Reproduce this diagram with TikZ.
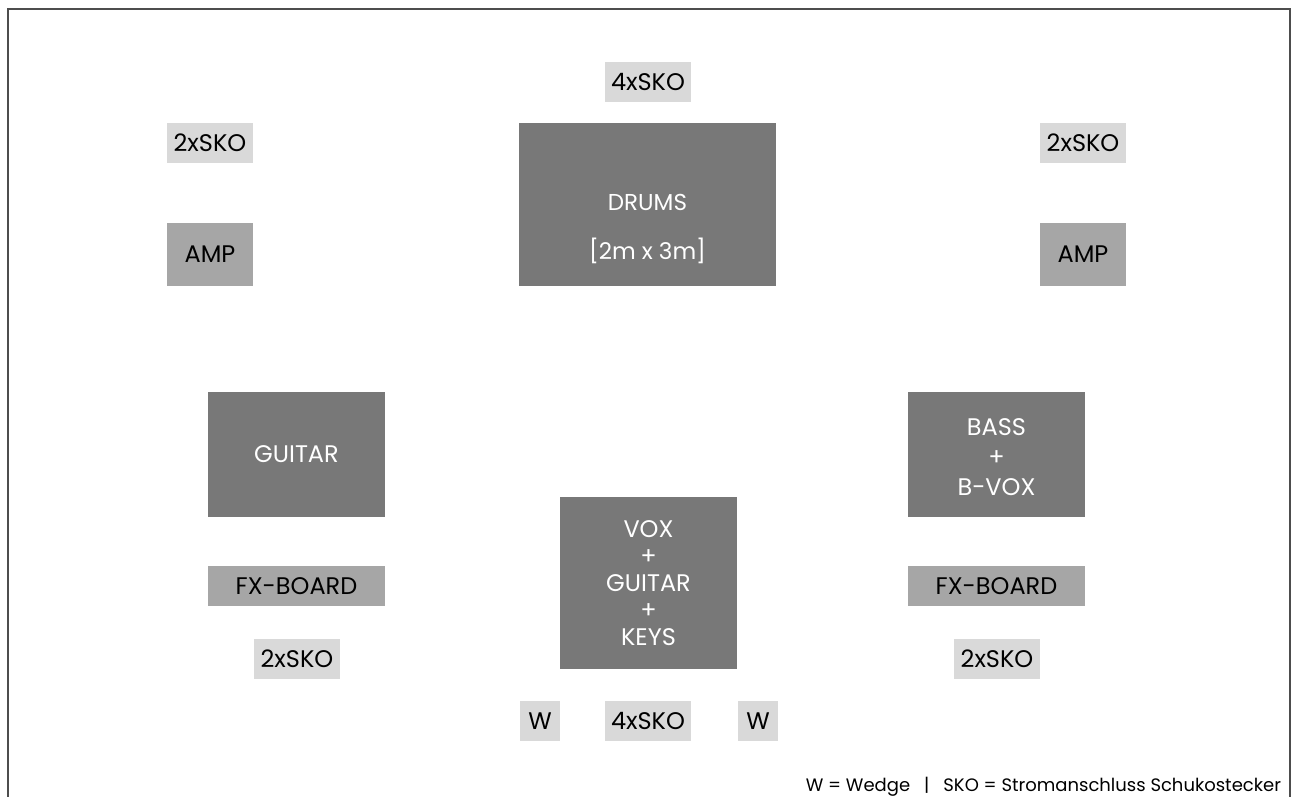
\documentclass[tikz,border=0pt]{standalone}
\usepackage{fontspec}
\usetikzlibrary{calc}
\setmainfont{Poppins}
\definecolor{dark}{HTML}{787878}
\definecolor{mid}{HTML}{A6A6A6}
\definecolor{light}{HTML}{D9D9D9}
\definecolor{frame}{HTML}{4D4D4D}
\tikzset{
  base/.style={inner sep=0pt, outer sep=0pt, align=center, font=\fontsize{24}{27}\selectfont},
  darkbox/.style={base, fill=dark, text=white},
  midbox/.style={base, fill=mid, text=black},
  skobox/.style={base, fill=light, text=black, minimum width=86pt, minimum height=40pt},
  whitetext/.style={base, text=white},
}
\begin{document}
\begin{tikzpicture}[x=1pt,y=-1pt]
\useasboundingbox (0,0) rectangle (1292,796);
\draw[frame, line width=2pt] (7.5,797) -- (7.5,9) -- (1290,9) -- (1290,797);
% top row
\node[skobox] (skoT) at (648,82) {4xSKO};
\node[darkbox, minimum width=257pt, minimum height=163pt] (drums) at (647.5,204.5) {};
\node[whitetext, font=\fontsize{23}{27}\selectfont] (drumsT) at ($(drums.center)+(0,25)$) {DRUMS\\[22pt][2m x 3m]};
\node[skobox] (skoTL) at (210,143) {2xSKO};
\node[skobox] (skoTR) at (1083,143) {2xSKO};
\node[midbox, minimum width=86pt, minimum height=63pt] (ampL) at (210,254.5) {AMP};
\node[midbox, minimum width=86pt, minimum height=63pt] (ampR) at (1083,254.5) {AMP};
% middle
\node[darkbox, minimum width=177pt, minimum height=125pt] (guitar) at (296.5,454.5) {GUITAR};
\node[darkbox, minimum width=177pt, minimum height=125pt] (bass) at (996.5,454.5) {};
\node[whitetext, font=\fontsize{24}{30}\selectfont] (bassT) at ($(bass.center)+(0,3)$) {BASS\\+\\B-VOX};
\node[midbox, minimum width=177pt, minimum height=40pt] (fxL) at (296.5,586) {FX-BOARD};
\node[midbox, minimum width=177pt, minimum height=40pt] (fxR) at (996.5,586) {FX-BOARD};
\node[skobox] (skoBL) at (297,659) {2xSKO};
\node[skobox] (skoBR) at (997,659) {2xSKO};
% center front
\node[darkbox, minimum width=177pt, minimum height=172pt] (vox) at (648.5,583) {VOX\\+\\GUITAR\\+\\KEYS};
\node[skobox, minimum width=40pt] (wL) at (540,721) {W};
\node[skobox] (skoB) at (648,721) {4xSKO};
\node[skobox, minimum width=40pt] (wR) at (758,721) {W};
% legend
\node[base, anchor=base east, font=\fontsize{18}{22}\selectfont] (legend) at (1281,791) {W = Wedge\hspace{14pt}|\hspace{14pt}SKO = Stromanschluss Schukostecker};
\end{tikzpicture}
\end{document}
